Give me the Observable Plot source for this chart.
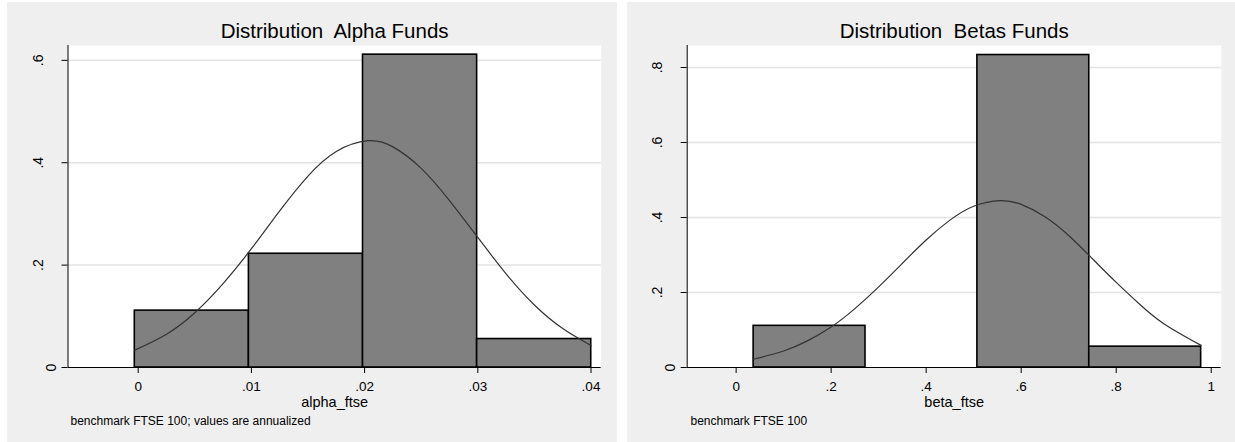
<!DOCTYPE html>
<html>
<head>
<meta charset="utf-8">
<script src="https://cdn.jsdelivr.net/npm/d3@7"></script>
<script src="https://cdn.jsdelivr.net/npm/@observablehq/plot@0.6"></script>
<style>
  html, body { margin: 0; padding: 0; background: #ffffff; }
  #page { position: relative; width: 1235px; height: 442px; overflow: hidden; background: #ffffff; }
  .panel { position: absolute; top: 2px; height: 440px; background: #efefef; }
  .panel svg text { white-space: pre; }
</style>
</head>
<body>
<div id="page">
  <div class="panel" id="alpha" style="left:7px;width:610px;"></div>
  <div class="panel" id="beta" style="left:627px;width:608px;"></div>
</div>
<script>
// Histogram of fund alphas (fraction of funds per bin)
const alphaBinStart = [-0.0003, 0.00978, 0.01986, 0.02994];
const alphaBinEnd   = [0.00978, 0.01986, 0.02994, 0.04002];
const alphaFraction = [0.1111, 0.2222, 0.6111, 0.0556];
// Normal curve overlaid on the alpha histogram
const alphaCurveX = [-0.0003, 0.0025, 0.005, 0.0075, 0.01, 0.0125, 0.015, 0.0175, 0.0203, 0.0225, 0.025, 0.0275, 0.03, 0.0325, 0.035, 0.0375, 0.04];
const alphaCurveY = [0.034, 0.065, 0.107, 0.164, 0.232, 0.306, 0.374, 0.422, 0.443, 0.431, 0.389, 0.326, 0.254, 0.183, 0.122, 0.076, 0.043];
const alphaXTicks = [0, 0.01, 0.02, 0.03, 0.04];
const alphaYTicks = [0, 0.2, 0.4, 0.6];

// Histogram of fund betas (fraction of funds per bin)
const betaBinStart = [0.0368, 0.2723, 0.5078, 0.7433];
const betaBinEnd   = [0.2723, 0.5078, 0.7433, 0.9788];
const betaFraction = [0.1111, 0, 0.8333, 0.0556];
// Normal curve overlaid on the beta histogram
const betaCurveX = [0.0368, 0.1, 0.15, 0.2, 0.25, 0.3, 0.35, 0.4, 0.45, 0.5, 0.555, 0.6, 0.65, 0.7, 0.75, 0.8, 0.85, 0.9, 0.9788];
const betaCurveY = [0.022, 0.044, 0.071, 0.108, 0.157, 0.215, 0.278, 0.340, 0.393, 0.430, 0.445, 0.435, 0.402, 0.352, 0.290, 0.227, 0.168, 0.117, 0.059];
const betaXTicks = [0, 0.2, 0.4, 0.6, 0.8, 1];
const betaYTicks = [0, 0.2, 0.4, 0.6, 0.8];

// Stata-style labels: drop the leading zero of decimals
const fmt = d => d === 0 ? "0" : String(d).replace(/^0\./, ".");

function histogramPanel({width, marginLeft, marginRight, xDomain, yDomain,
                         starts, ends, fractions, curveX, curveY,
                         xTicks, yTicks, title, xLabel, caption, captionDx}) {
  const bins = starts.map((s, i) => ({x1: s, x2: ends[i], frac: fractions[i]}))
    .filter(d => d.frac > 0);
  const curve = curveX.map((x, i) => ({x, y: curveY[i]}));
  const gridTicks = yTicks.filter(d => d !== 0);
  return Plot.plot({
    width, height: 440,
    marginLeft, marginRight, marginTop: 43, marginBottom: 75,
    style: {background: "transparent", color: "#000", fontFamily: "'Liberation Sans', Arial, sans-serif", fontSize: "14px", overflow: "visible"},
    x: {domain: xDomain},
    y: {domain: yDomain},
    marks: [
      Plot.frame({fill: "#ffffff", stroke: null}),
      Plot.gridY(gridTicks, {stroke: "#e3e3e3", strokeOpacity: 1, strokeWidth: 1.5}),
      Plot.rectY(bins, {x1: "x1", x2: "x2", y1: 0, y2: "frac", fill: "#808080", stroke: "#000", strokeWidth: 1.6}),
      Plot.line(curve, {x: "x", y: "y", curve: "natural", stroke: "#333333", strokeWidth: 1.2}),
      Plot.ruleY([0], {stroke: "#000", strokeWidth: 1}),
      Plot.ruleX([xDomain[0]], {stroke: "#000", strokeWidth: 1}),
      Plot.axisX(xTicks, {tickSize: 6, tickPadding: 8, tickFormat: fmt, label: null, fontSize: 13.5}),
      Plot.axisY(yTicks, {tickSize: 6, tickFormat: () => "", label: null}),
      // vertical y tick labels
      Plot.text(yTicks.filter(d => d === 0), {frameAnchor: "left", y: d => d, text: fmt, rotate: -90, textAnchor: "middle", lineAnchor: "bottom", dx: -12, fontSize: 14}),
      Plot.text(yTicks.filter(d => d !== 0), {frameAnchor: "left", y: d => d, text: fmt, rotate: -90, textAnchor: "middle", lineAnchor: "bottom", dx: -25, fontSize: 14}),
      Plot.text([title], {frameAnchor: "top", dy: -7.5, lineAnchor: "bottom", fontSize: 20.5}),
      Plot.text([xLabel], {frameAnchor: "bottom", dy: 39, lineAnchor: "bottom", fontSize: 14.5}),
      Plot.text([caption], {frameAnchor: "bottom-left", dx: captionDx, dy: 57, textAnchor: "start", lineAnchor: "bottom", fontSize: 12})
    ]
  });
}

document.getElementById("alpha").append(histogramPanel({
  width: 610, marginLeft: 60.5, marginRight: 16.3,
  xDomain: [-0.0062, 0.0409], yDomain: [0, 0.629],
  starts: alphaBinStart, ends: alphaBinEnd, fractions: alphaFraction,
  curveX: alphaCurveX, curveY: alphaCurveY,
  xTicks: alphaXTicks, yTicks: alphaYTicks,
  title: "Distribution  Alpha Funds", xLabel: "alpha_ftse",
  caption: "benchmark FTSE 100; values are annualized", captionDx: 2.5
}));

document.getElementById("beta").append(histogramPanel({
  width: 608, marginLeft: 59.7, marginRight: 14.3,
  xDomain: [-0.103, 1.021], yDomain: [0, 0.8587],
  starts: betaBinStart, ends: betaBinEnd, fractions: betaFraction,
  curveX: betaCurveX, curveY: betaCurveY,
  xTicks: betaXTicks, yTicks: betaYTicks,
  title: "Distribution  Betas Funds", xLabel: "beta_ftse",
  caption: "benchmark FTSE 100", captionDx: 3.3
}));
</script>
</body>
</html>
